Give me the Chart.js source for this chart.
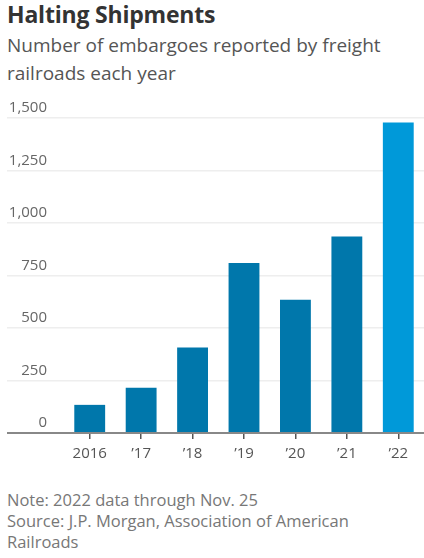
<!DOCTYPE html>
<html>
<head>
<meta charset="utf-8">
<script src="https://cdn.jsdelivr.net/npm/chart.js@4"></script>
<style>
  body { margin: 0; background: #fff; width: 424px; height: 558px; overflow: hidden; font-family: "Open Sans", "Noto Sans", sans-serif; }
  #title { position: absolute; left: 7px; top: -2px; font-size: 23px; font-weight: bold; color: #333; letter-spacing: -0.2px; }
  #subtitle { position: absolute; left: 7px; top: 31px; width: 415px; font-size: 19px; line-height: 28px; color: #555; }
  #wrap { position: absolute; left: 0; top: 96px; width: 424px; height: 373px; }
  #notes { position: absolute; left: 7px; top: 489px; font-size: 16.5px; line-height: 21px; color: #777; }
</style>
</head>
<body>
<div id="title">Halting Shipments</div>
<div id="subtitle">Number of embargoes reported by freight railroads each year</div>
<div id="wrap"><canvas id="myChart"></canvas></div>
<div id="notes">Note: 2022 data through Nov. 25<br>Source: J.P. Morgan, Association of American<br>Railroads</div>
<script>
const years = ['2016', '\u201917', '\u201918', '\u201919', '\u201920', '\u201921', '\u201922'];
const embargoes = [134, 215, 407, 809, 634, 936, 1479];
const yTicks = [0, 250, 500, 750, 1000, 1250, 1500];

const barColors = years.map((y, i) => i === years.length - 1 ? '#0099d9' : '#0077ab');

const ctx = document.getElementById('myChart');
new Chart(ctx, {
    type: 'bar',
    data: {
        labels: years,
        datasets: [
            {
                label: 'Embargoes',
                data: embargoes,
                backgroundColor: barColors,
                barPercentage: 0.6,
                categoryPercentage: 1
            }
        ]
    },
    options: {
        responsive: true,
        maintainAspectRatio: false,
        animation: false,
        layout: { padding: { left: 7, right: 0, top: 22, bottom: 0 } },
        plugins: {
            legend: { display: false },
            tooltip: { enabled: false }
        },
        scales: {
            x: {
                border: { display: false },
                grid: {
                    offset: false,
                    drawOnChartArea: false,
                    drawTicks: true,
                    tickLength: 6,
                    color: '#555',
                    lineWidth: 1.5
                },
                ticks: {
                    font: { family: 'Open Sans', size: 15 },
                    color: '#555',
                    padding: 6
                }
            },
            y: {
                min: 0,
                max: 1500,
                afterBuildTicks: function(axis) {
                    axis.ticks = yTicks.map(v => ({ value: v }));
                },
                afterFit: function(axis) {
                    axis.width = 57;
                },
                border: { display: false },
                grid: {
                    drawTicks: true,
                    tickLength: 57,
                    color: c => c.tick && c.tick.value === 0 ? '#888' : '#eeeeee',
                    lineWidth: c => c.tick && c.tick.value === 0 ? 2 : 1.5
                },
                ticks: {
                    font: { family: 'Open Sans', size: 15 },
                    color: '#666',
                    padding: -40,
                    labelOffset: -10,
                    callback: function(value) {
                        return value.toLocaleString('en-US');
                    }
                }
            }
        }
    }
});
</script>
</body>
</html>
